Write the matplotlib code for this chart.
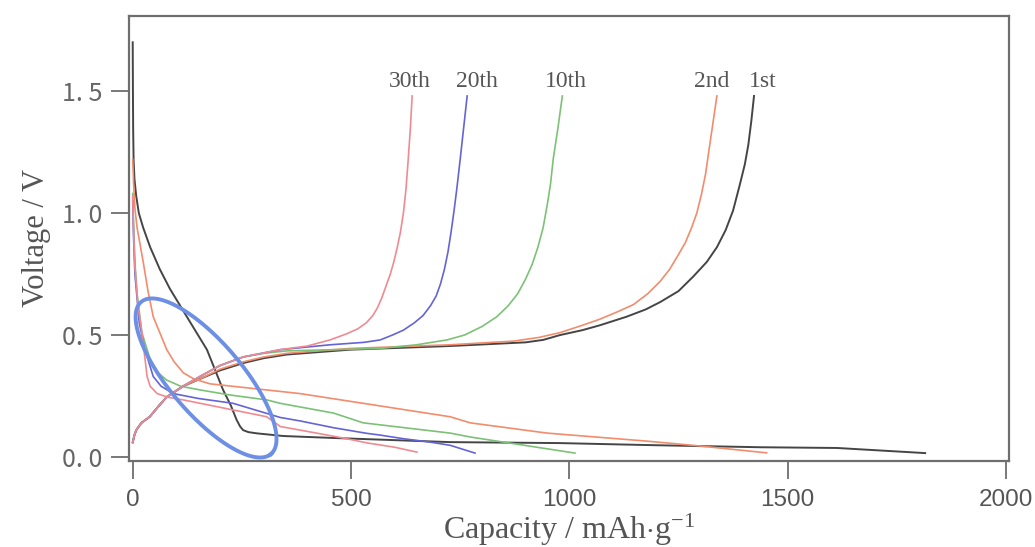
import numpy as np
import matplotlib.pyplot as plt

plt.rcParams['mathtext.fontset'] = 'custom'
plt.rcParams['mathtext.rm'] = 'Liberation Serif'
plt.rcParams['mathtext.it'] = 'Liberation Serif:italic'

# discharge / charge curves, capacity in mAh/g and voltage in V
dis1_x = [0, 0.5, 1, 2, 4, 8, 14, 24, 40, 62, 85, 124, 170, 207, 225, 238, 246, 253, 265, 284, 345, 460, 727, 979, 1178, 1437, 1613, 1815]
dis1_y = [1.70, 1.50, 1.35, 1.22, 1.14, 1.07, 1.00, 0.94, 0.86, 0.77, 0.69, 0.575, 0.44, 0.275, 0.21, 0.152, 0.125, 0.11, 0.102, 0.097, 0.086, 0.078, 0.061, 0.057, 0.049, 0.040, 0.037, 0.016]
chg1_x = [0, 4, 8, 20, 39, 60, 78, 115, 154, 200, 253, 300, 353, 498, 727, 900, 940, 979, 1030, 1070, 1131, 1175, 1208, 1250, 1284, 1315, 1338, 1358, 1375, 1391, 1402, 1410, 1417, 1423]
chg1_y = [0.06, 0.09, 0.11, 0.14, 0.165, 0.21, 0.246, 0.29, 0.32, 0.355, 0.385, 0.405, 0.42, 0.44, 0.455, 0.47, 0.48, 0.50, 0.52, 0.54, 0.575, 0.605, 0.635, 0.68, 0.74, 0.80, 0.86, 0.93, 1.01, 1.12, 1.20, 1.28, 1.38, 1.48]

dis2_x = [0, 2, 5, 10, 16, 24, 35, 47, 78, 95, 116, 140, 177, 383, 528, 727, 773, 949, 1178, 1300, 1452]
dis2_y = [1.22, 1.12, 1.02, 0.94, 0.88, 0.80, 0.68, 0.575, 0.44, 0.39, 0.345, 0.32, 0.30, 0.26, 0.22, 0.165, 0.14, 0.098, 0.065, 0.045, 0.017]
chg2_x = [0, 4, 8, 20, 39, 60, 78, 115, 154, 200, 253, 300, 353, 498, 727, 872, 930, 979, 1030, 1070, 1110, 1147, 1180, 1208, 1230, 1250, 1266, 1280, 1292, 1303, 1312, 1320, 1329, 1338]
chg2_y = [0.06, 0.09, 0.11, 0.14, 0.165, 0.21, 0.246, 0.29, 0.32, 0.36, 0.39, 0.41, 0.425, 0.445, 0.46, 0.475, 0.49, 0.51, 0.54, 0.565, 0.595, 0.625, 0.67, 0.72, 0.77, 0.83, 0.88, 0.94, 1.00, 1.08, 1.16, 1.26, 1.37, 1.48]

dis10_x = [0, 2, 5, 10, 21, 40, 55, 78, 110, 154, 220, 307, 338, 460, 528, 727, 773, 1013]
dis10_y = [1.08, 0.95, 0.80, 0.67, 0.51, 0.40, 0.35, 0.315, 0.29, 0.275, 0.255, 0.234, 0.22, 0.18, 0.14, 0.098, 0.082, 0.016]
chg10_x = [0, 4, 8, 20, 39, 60, 78, 115, 154, 200, 253, 300, 353, 567, 650, 720, 760, 800, 834, 860, 882, 900, 915, 928, 940, 950, 957, 963, 974, 984]
chg10_y = [0.06, 0.09, 0.11, 0.14, 0.165, 0.21, 0.246, 0.29, 0.33, 0.375, 0.41, 0.425, 0.435, 0.445, 0.46, 0.48, 0.50, 0.535, 0.575, 0.62, 0.67, 0.73, 0.79, 0.86, 0.94, 1.04, 1.12, 1.22, 1.35, 1.48]

dis20_x = [0, 2, 5, 15, 28, 47, 65, 93, 150, 230, 338, 383, 460, 536, 566, 620, 681, 727, 784]
dis20_y = [1.05, 0.90, 0.75, 0.55, 0.44, 0.33, 0.29, 0.26, 0.24, 0.22, 0.162, 0.148, 0.12, 0.097, 0.09, 0.075, 0.061, 0.048, 0.016]
chg20_x = [0, 4, 8, 20, 39, 60, 78, 115, 154, 200, 253, 338, 452, 530, 567, 595, 620, 645, 665, 682, 695, 705, 714, 722, 729, 736, 743, 750, 758, 766]
chg20_y = [0.06, 0.09, 0.11, 0.14, 0.165, 0.21, 0.246, 0.29, 0.33, 0.375, 0.41, 0.44, 0.46, 0.47, 0.48, 0.50, 0.52, 0.55, 0.58, 0.62, 0.66, 0.71, 0.77, 0.84, 0.92, 1.01, 1.11, 1.22, 1.35, 1.48]

dis30_x = [0, 2, 5, 12, 21, 33, 40, 56, 80, 116, 307, 338, 430, 490, 536, 600, 651]
dis30_y = [1.07, 0.92, 0.78, 0.62, 0.51, 0.33, 0.29, 0.26, 0.245, 0.234, 0.165, 0.125, 0.095, 0.075, 0.058, 0.04, 0.02]
chg30_x = [0, 4, 8, 20, 39, 60, 78, 115, 154, 200, 253, 338, 400, 452, 490, 515, 535, 550, 560, 570, 580, 590, 598, 606, 613, 620, 626, 631, 636, 640]
chg30_y = [0.06, 0.09, 0.11, 0.14, 0.165, 0.21, 0.246, 0.29, 0.33, 0.375, 0.41, 0.44, 0.455, 0.48, 0.505, 0.525, 0.55, 0.58, 0.61, 0.65, 0.70, 0.75, 0.80, 0.86, 0.92, 1.00, 1.10, 1.22, 1.35, 1.48]

cycle_labels = ['30th', '20th', '10th', '2nd', '1st']
label_x = [635, 788, 992, 1327, 1443]
label_y = 1.516

# highlighted region (ellipse), centre in data units, axes in pixels
ell_center = (168, 0.324)
ell_a, ell_b, ell_angle = 100, 36, -49.5

xmin, xmax = -8.5, 2007
ymin, ymax = -0.0164, 1.809

fig = plt.figure(figsize=(10.35, 5.47), dpi=100, facecolor='w')
ax_rect = [129/1035, 1 - 461/547, (1009 - 129)/1035, (461 - 15.7)/547]
ax = fig.add_axes(ax_rect)

c1 = '#454545'
c2 = '#f28c6c'
c10 = '#7dc177'
c20 = '#6464d6'
c30 = '#f08a92'

ax.plot(dis1_x, dis1_y, color=c1, lw=1.4)
ax.plot(chg1_x, chg1_y, color=c1, lw=1.4)
ax.plot(dis2_x, dis2_y, color=c2, lw=1.2)
ax.plot(chg2_x, chg2_y, color=c2, lw=1.2)
ax.plot(dis10_x, dis10_y, color=c10, lw=1.2)
ax.plot(chg10_x, chg10_y, color=c10, lw=1.2)
ax.plot(dis20_x, dis20_y, color=c20, lw=1.2)
ax.plot(chg20_x, chg20_y, color=c20, lw=1.2)
ax.plot(dis30_x, dis30_y, color=c30, lw=1.2)
ax.plot(chg30_x, chg30_y, color=c30, lw=1.2)

# ellipse drawn in pixel space, converted back to data units
px_x = ax_rect[2] * 1035 / (xmax - xmin)
px_y = ax_rect[3] * 547 / (ymax - ymin)
t = np.linspace(0, 2*np.pi, 200)
phi = np.radians(ell_angle)
ex = ell_a*np.cos(t)*np.cos(phi) - ell_b*np.sin(t)*np.sin(phi)
ey = ell_a*np.cos(t)*np.sin(phi) + ell_b*np.sin(t)*np.cos(phi)
ax.plot(ell_center[0] + ex/px_x, ell_center[1] + ey/px_y, color='#6d90e4', lw=2.8, clip_on=False)

for lab, lx in zip(cycle_labels, label_x):
	ax.text(lx, label_y, lab, ha='center', va='baseline', fontsize=17,
		family='Liberation Serif', color='#555555')

ax.set_xlim(xmin, xmax)
ax.set_ylim(ymin, ymax)

for s in ax.spines.values():
	s.set_color('#6e6e6e')
	s.set_linewidth(1.6)

ax.set_xticks([0, 500, 1000, 1500, 2000])
ax.set_xticklabels(['0', '500', '1000', '1500', '2000'], family='Liberation Sans', fontsize=17.5, color='#555555')
ax.set_yticks([0, 0.5, 1.0, 1.5])
ax.set_yticklabels(['0. 0', '0. 5', '1. 0', '1. 5'], family='Noto Sans CJK JP', fontsize=18, color='#666666')
ax.tick_params(axis='both', direction='out', length=13, width=1.3, color='#6e6e6e')
ax.tick_params(axis='x', pad=7)
ax.tick_params(axis='y', pad=6)

ax.set_xlabel('Capacity / mAh$\\cdot$g$^{\\mathrm{-1}}$', family='Liberation Serif', fontsize=23, color='#555555', labelpad=1)
ax.set_ylabel('Voltage / V', family='Liberation Serif', fontsize=22, color='#555555', labelpad=8)

plt.savefig('out.png', dpi=100)
